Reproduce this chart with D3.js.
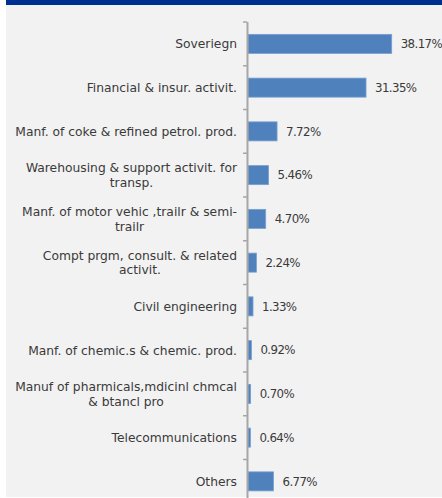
<!DOCTYPE html>
<html>
<head>
<meta charset="utf-8">
<script src="https://cdn.jsdelivr.net/npm/d3@7"></script>
<style>
  html, body { margin: 0; padding: 0; background: #ffffff; }
  svg { display: block; }
  text { font-family: "DejaVu Sans", sans-serif; fill: #3a3a3a; }
</style>
</head>
<body>
<svg id="chart" width="442" height="498"></svg>
<script>
// Sector-wise exposure (% of total)
const categories = [
  ["Soveriegn"],
  ["Financial & insur. activit."],
  ["Manf. of coke & refined petrol. prod."],
  ["Warehousing & support activit. for", "transp."],
  ["Manf. of motor vehic ,trailr & semi-", "trailr"],
  ["Compt prgm, consult. & related", "activit."],
  ["Civil engineering"],
  ["Manf. of chemic.s & chemic. prod."],
  ["Manuf of pharmicals,mdicinl chmcal", "& btancl pro"],
  ["Telecommunications"],
  ["Others"]
];
const shares = [38.17, 31.35, 7.72, 5.46, 4.70, 2.24, 1.33, 0.92, 0.70, 0.64, 6.77];
const valueLabels = ["38.17%", "31.35%", "7.72%", "5.46%", "4.70%", "2.24%", "1.33%", "0.92%", "0.70%", "0.64%", "6.77%"];

const svg = d3.select("#chart");
const W = 442, H = 498;

// panel background and header strip
svg.append("rect").attr("x", 6).attr("y", 0).attr("width", W - 6).attr("height", H - 1).attr("fill", "#f2f2f2");
svg.append("rect").attr("x", 6).attr("y", 0).attr("width", W - 6).attr("height", 5).attr("fill", "#00308f");

const axisX = 248;
const plotTop = 22;
const band = 43.75;

const x = d3.scaleLinear().domain([0, 38.17]).range([axisX, 391.7]);
const y = d3.scaleBand()
  .domain(d3.range(categories.length))
  .range([plotTop, plotTop + band * categories.length])
  .paddingInner(0.565)
  .paddingOuter(0.2825);

const g = svg.append("g");

// bars
g.selectAll("rect.bar")
  .data(shares)
  .join("rect")
  .attr("class", "bar")
  .attr("x", x(0))
  .attr("y", (d, i) => y(i))
  .attr("width", d => x(d) - x(0))
  .attr("height", y.bandwidth())
  .attr("fill", "#4f81bd")
  .attr("stroke", "#7aa0d0")
  .attr("stroke-width", 0.8);

// value labels
g.selectAll("text.val")
  .data(shares)
  .join("text")
  .attr("class", "val")
  .attr("x", d => x(d) + 9)
  .attr("y", (d, i) => y(i) + y.bandwidth() / 2)
  .attr("dy", "0.36em")
  .attr("font-size", "11.8px")
  .attr("letter-spacing", "-0.6px")
  .text((d, i) => valueLabels[i]);

// category axis: line plus boundary ticks
const boundaries = d3.range(categories.length + 1).map(i => plotTop + i * band);
svg.append("line")
  .attr("x1", axisX - 0.5).attr("x2", axisX - 0.5)
  .attr("y1", plotTop).attr("y2", H)
  .attr("stroke", "#a6a6a6").attr("stroke-width", 2);
svg.selectAll("line.tick")
  .data(boundaries)
  .join("line")
  .attr("class", "tick")
  .attr("x1", axisX - 5).attr("x2", axisX - 1)
  .attr("y1", d => d).attr("y2", d => d)
  .attr("stroke", "#a6a6a6").attr("stroke-width", 1.5);

// category labels: block right-aligned to the axis, lines centred in the block
const labelRight = 237;
const lineH = 14.5;
categories.forEach((lines, i) => {
  const cy = y(i) + y.bandwidth() / 2;
  const t = svg.append("text").attr("font-size", "12.3px");
  lines.forEach(ln => { t.append("tspan").text(ln); });
  const spans = t.selectAll("tspan").nodes();
  const maxW = d3.max(spans, s => s.getComputedTextLength());
  const cx = labelRight - maxW / 2;
  spans.forEach((s, k) => {
    d3.select(s)
      .attr("x", cx)
      .attr("y", cy + (k - (lines.length - 1) / 2) * lineH)
      .attr("dy", "0.36em")
      .attr("text-anchor", "middle");
  });
});
</script>
</body>
</html>
